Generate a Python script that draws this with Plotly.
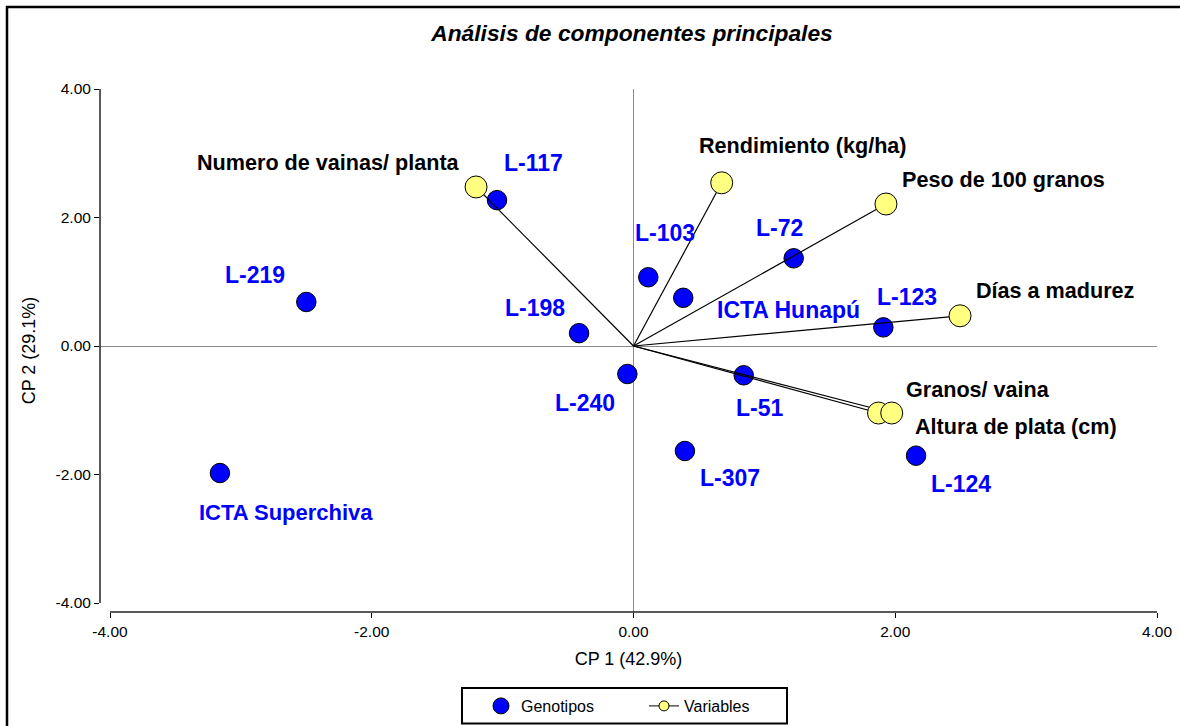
import plotly.graph_objects as go

# ---------------- data ----------------
genotypes = ["L-117", "L-219", "L-198", "L-103", "ICTA Hunapú", "L-72", "L-123",
             "L-240", "L-51", "L-307", "L-124", "ICTA Superchiva"]
geno_cp1 = [-1.043, -2.50, -0.416, 0.113, 0.38, 1.224, 1.909, -0.047, 0.842, 0.393, 2.159, -3.16]
geno_cp2 = [2.27, 0.685, 0.20, 1.07, 0.75, 1.365, 0.29, -0.436, -0.456, -1.634, -1.707, -1.977]

variables = ["Numero de vainas/ planta", "Rendimiento (kg/ha)", "Peso de 100 granos",
             "Días a madurez", "Granos/ vaina", "Altura de plata (cm)"]
var_cp1 = [-1.203, 0.674, 1.929, 2.495, 1.872, 1.973]
var_cp2 = [2.475, 2.54, 2.21, 0.47, -1.043, -1.043]

tick_vals = [-4, -2, 0, 2, 4]
tick_text = ["-4.00", "-2.00", "0.00", "2.00", "4.00"]

# ---------------- layout helpers (pixels) ----------------
W, H = 1180, 726
FONT = "Arial, 'Liberation Sans', sans-serif"
# label offsets in pixels (dx right, dy down) and label font sizes
geno_off = [(36, -37), (-51, -27), (-44, -25), (17, -44), (105, 12), (-14, -30), (24, -30),
            (-42, 29), (16, 33), (45, 27), (45, 28), (66, 39)]
geno_fs = [23, 23, 23, 23, 23, 23, 23, 23, 23, 23, 23, 22]
var_off = [(-148, -24), (81, -37), (118, -25), (95, -25), (99, -24), (124, 13)]

# plot area in pixels: x=-4 at 110, x=4 at 1157; y=4 at 89, y=-4 at 603
px_x0, px_x4, px_left = 110, 1157, 100
px_y4, px_ym4, px_bottom = 89, 603, 612
ppu_x = (px_x4 - px_x0) / 8
ppu_y = (px_ym4 - px_y4) / 8
x_lo = -4 - (px_x0 - px_left) / ppu_x
y_lo = -4 - (px_bottom - px_ym4) / ppu_y


def pxx(p):
    return p / W


def pxy(p):
    return 1 - p / H


fig = go.Figure()

# genotypes
fig.add_trace(go.Scatter(
    x=geno_cp1, y=geno_cp2, mode="markers", name="Genotipos",
    marker=dict(size=19.5, color="#0000FF", line=dict(color="black", width=1)),
    showlegend=True, cliponaxis=False))

# variable vectors
lx, ly = [], []
for vx, vy in zip(var_cp1, var_cp2):
    lx += [0, vx, None]
    ly += [0, vy, None]
fig.add_trace(go.Scatter(x=lx, y=ly, mode="lines", line=dict(color="black", width=1.2),
                         showlegend=False, hoverinfo="skip"))
fig.add_trace(go.Scatter(
    x=var_cp1, y=var_cp2, mode="markers", name="Variables",
    marker=dict(size=22, color="#FFFF80", line=dict(color="black", width=1)),
    showlegend=False, cliponaxis=False))
# legend entry for variables
fig.add_trace(go.Scatter(
    x=[None], y=[None], mode="lines+markers", name="Variables",
    line=dict(color="black", width=1),
    marker=dict(size=10, color="#FFFF80", line=dict(color="black", width=1))))

ann = []
for name, gx, gy, (dx, dy), fs in zip(genotypes, geno_cp1, geno_cp2, geno_off, geno_fs):
    ann.append(dict(x=gx, y=gy, xref="x", yref="y", text="<b>%s</b>" % name, showarrow=False,
                    xshift=dx, yshift=-dy, font=dict(family=FONT, size=fs, color="#0000FF")))
for name, vx, vy, (dx, dy) in zip(variables, var_cp1, var_cp2, var_off):
    ann.append(dict(x=vx, y=vy, xref="x", yref="y", text="<b>%s</b>" % name, showarrow=False,
                    xshift=dx, yshift=-dy, font=dict(family=FONT, size=21.6, color="black")))

shapes = [
    # outer frame: only top and left edges are visible in the original
    dict(type="line", xref="paper", yref="paper", x0=pxx(6), y0=pxy(7), x1=1, y1=pxy(7),
         line=dict(color="black", width=2.5)),
    dict(type="line", xref="paper", yref="paper", x0=pxx(7), y0=pxy(6), x1=pxx(7), y1=0,
         line=dict(color="black", width=2.5)),
    # x axis line
    dict(type="line", xref="paper", yref="paper", x0=pxx(px_x0), x1=pxx(px_x4),
         y0=pxy(px_bottom), y1=pxy(px_bottom), line=dict(color="#222222", width=1.5)),
    # y axis line
    dict(type="line", xref="paper", yref="paper", x0=pxx(px_left), x1=pxx(px_left),
         y0=pxy(px_ym4), y1=pxy(px_y4), line=dict(color="#222222", width=1.5)),
    # legend frame
    dict(type="rect", xref="paper", yref="paper", x0=pxx(462), x1=pxx(787),
         y0=pxy(723.5), y1=pxy(688), line=dict(color="black", width=2), fillcolor="white",
         layer="below"),
]

fig.update_layout(
    width=W, height=H, template="none",
    margin=dict(l=0, r=0, t=0, b=0, autoexpand=False),
    paper_bgcolor="white", plot_bgcolor="rgba(0,0,0,0)",
    font=dict(family=FONT, size=15.5, color="black"),
    title=dict(text="<b><i>Análisis de componentes principales</i></b>",
               x=pxx(632), y=pxy(33), xanchor="center", yanchor="middle",
               xref="paper", yref="container",
               font=dict(family=FONT, size=22.8, color="black")),
    xaxis=dict(domain=[pxx(px_left), pxx(px_x4)], range=[x_lo, 4], tickvals=tick_vals,
               ticktext=tick_text, ticks="outside", ticklen=5, tickcolor="black", tickwidth=1,
               showgrid=False, showline=False, zeroline=True, zerolinecolor="#8a8a8a",
               zerolinewidth=1.2, automargin=False,
               title=dict(text="CP 1 (42.9%)", font=dict(family=FONT, size=18), standoff=13)),
    yaxis=dict(domain=[pxy(px_bottom), pxy(px_y4)], range=[y_lo, 4], tickvals=tick_vals,
               ticktext=tick_text, ticks="outside", ticklen=5, tickcolor="black", tickwidth=1,
               showgrid=False, showline=False, zeroline=True, zerolinecolor="#8a8a8a",
               zerolinewidth=1.2, automargin=False,
               title=dict(text="CP 2 (29.1%)", font=dict(family=FONT, size=18), standoff=15)),
    legend=dict(orientation="h", x=pxx(481), xanchor="left", y=pxy(706), yanchor="middle",
                borderwidth=0, bgcolor="rgba(0,0,0,0)",
                font=dict(family=FONT, size=16), itemsizing="trace", entrywidth=118),
    annotations=ann, shapes=shapes,
)

fig.write_html("out.html", config={"displayModeBar": False},
               post_script="document.body.style.margin='0px';")
